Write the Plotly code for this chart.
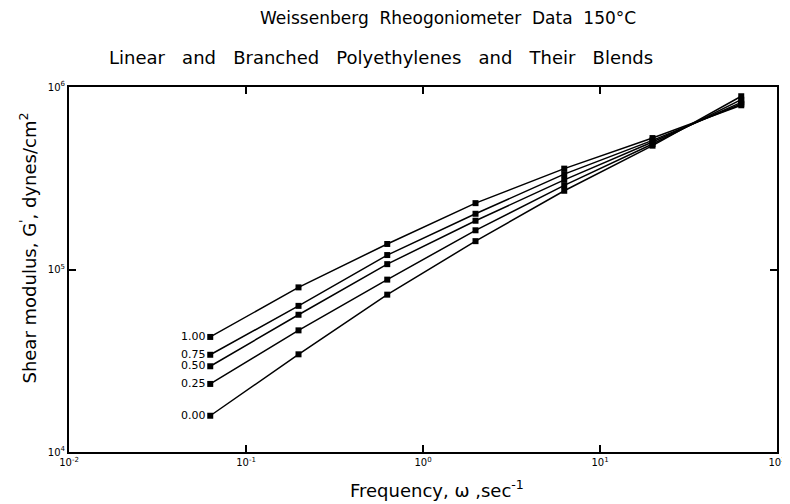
import plotly.graph_objects as go

# Frequency (sec^-1)
freq = [0.0628, 0.198, 0.628, 1.98, 6.28, 19.8, 62.8]

series_labels = ["1.00", "0.75", "0.50", "0.25", "0.00"]
g_100 = [42700, 79800, 138000, 231000, 357000, 525000, 794000]
g_075 = [34100, 63200, 120000, 202000, 333000, 510000, 807000]
g_050 = [29500, 56500, 107000, 185000, 310000, 500000, 824000]
g_025 = [23600, 46400, 88000, 164000, 289000, 487000, 852000]
g_000 = [15800, 34300, 72800, 143000, 270000, 477000, 890000]
series_values = [g_100, g_075, g_050, g_025, g_000]

x_tickvals = [0.01, 0.1, 1, 10, 100]
x_ticktext = ["10<sup>-2</sup>", "10<sup>-1</sup>", "10<sup>0</sup>", "10<sup>1</sup>", "10<sup>2</sup>"]
y_tickvals = [1e4, 1e5, 1e6]
y_ticktext = ["10<sup>4</sup>", "10<sup>5</sup>", "10<sup>6</sup>"]

FONT = "DejaVu Sans"

fig = go.Figure()
for lab, vals in zip(series_labels, series_values):
    fig.add_trace(go.Scatter(
        x=freq, y=vals, mode="lines+markers+text",
        text=[lab] + [""] * (len(freq) - 1),
        textposition="middle left",
        textfont=dict(family=FONT, size=11, color="black"),
        line=dict(color="black", width=1.5),
        marker=dict(symbol="square", size=6, color="black"),
        showlegend=False, cliponaxis=False,
    ))

axis_common = dict(
    showline=True, linecolor="black", linewidth=2, mirror="ticks",
    ticks="inside", ticklen=7, tickcolor="black", tickwidth=1.5,
    showgrid=False, zeroline=False,
    tickfont=dict(family=FONT, size=10, color="black"),
)
fig.update_xaxes(type="log", range=[-2, 2], tickvals=x_tickvals, ticktext=x_ticktext, **axis_common)
fig.update_yaxes(type="log", range=[4, 6], tickvals=y_tickvals, ticktext=y_ticktext, **axis_common)

fig.update_layout(
    width=790, height=504,
    margin=dict(l=61, r=18, t=79, b=60),
    plot_bgcolor="white", paper_bgcolor="white",
    font=dict(family=FONT, color="black"),
    annotations=[
        dict(text="Weissenberg  Rheogoniometer  Data  150°C", x=0.535, y=1.19, xref="paper", yref="paper",
             showarrow=False, font=dict(size=17, family=FONT), xanchor="center", yanchor="middle"),
        dict(text="Linear   and   Branched   Polyethylenes   and   Their   Blends", x=0.44, y=1.08, xref="paper", yref="paper",
             showarrow=False, font=dict(size=18, family=FONT), xanchor="center", yanchor="middle"),
        dict(text="Frequency, ω ,sec<sup>-1</sup>", x=0.52, y=-0.10, xref="paper", yref="paper",
             showarrow=False, font=dict(size=18, family=FONT), xanchor="center", yanchor="middle"),
        dict(text="Shear modulus, G<sup>'</sup>, dynes/cm<sup>2</sup>", x=-0.058, y=0.56, xref="paper", yref="paper",
             showarrow=False, textangle=-90, font=dict(size=18, family=FONT), xanchor="center", yanchor="middle"),
    ],
)

fig.write_html("out.html")
